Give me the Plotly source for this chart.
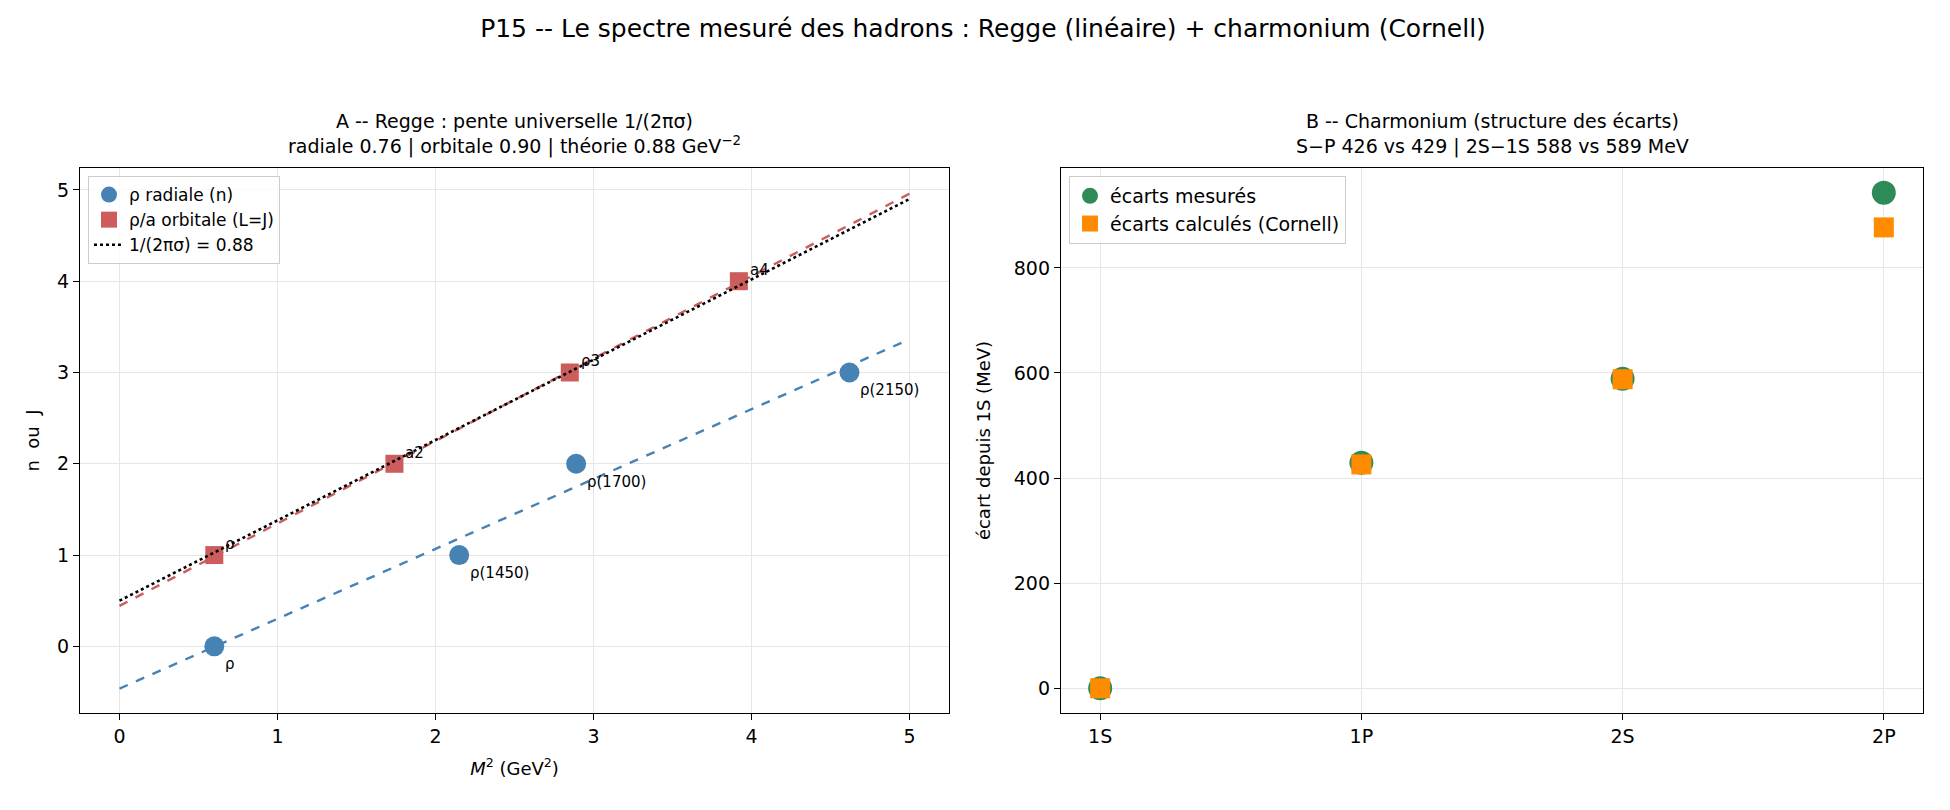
import numpy as np
import plotly.graph_objects as go

# --- données ---
# A : trajectoires de Regge (M^2 en GeV^2)
radial_names = ["ρ", "ρ(1450)", "ρ(1700)", "ρ(2150)"]
radial_m2 = [0.60, 2.15, 2.89, 4.62]
radial_n = [0, 1, 2, 3]

orbital_names = ["ρ", "a2", "ρ3", "a4"]
orbital_m2 = [0.60, 1.74, 2.85, 3.92]
orbital_j = [1, 2, 3, 4]

theory_slope = 0.88
theory_intercept = 0.50
m2_line = [0.0, 5.0]

# B : charmonium, écarts depuis 1S (MeV)
states = ["1S", "1P", "2S", "2P"]
gap_measured = [0, 429, 589, 943]
gap_cornell = [0, 426, 588, 877]

FONT = "DejaVu Sans"
BLUE = "#4682B4"
RED = "#CD5C5C"
GREEN = "#2E8B57"
ORANGE = "#FF8C00"
GRID = "#e6e6e6"

W, H = 1950, 810

# cadres des deux panneaux en pixels (gauche, droite, haut, bas)
A_BOX = (72, 941, 160, 705)
B_BOX = (1053, 1915, 160, 705)


def px_x(p):
    return p / W


def px_y(p):
    return 1 - p / H


# ajustements linéaires (comme dans l'original)
rad_fit = np.polyfit(radial_m2, radial_n, 1)
orb_fit = np.polyfit(orbital_m2, orbital_j, 1)
xl = np.array(m2_line)

fig = go.Figure()

# --- panneau A ---
fig.add_trace(go.Scatter(
    x=xl, y=np.polyval(rad_fit, xl), mode="lines",
    line=dict(color=BLUE, width=2.4, dash="dash"),
    showlegend=False, hoverinfo="skip", xaxis="x", yaxis="y"))
fig.add_trace(go.Scatter(
    x=xl, y=np.polyval(orb_fit, xl), mode="lines",
    line=dict(color=RED, width=2.4, dash="dash"),
    showlegend=False, hoverinfo="skip", xaxis="x", yaxis="y"))
fig.add_trace(go.Scatter(
    x=radial_m2, y=radial_n, mode="markers",
    marker=dict(size=20, color=BLUE, symbol="circle"),
    name="ρ radiale (n)", legend="legend", xaxis="x", yaxis="y"))
fig.add_trace(go.Scatter(
    x=orbital_m2, y=orbital_j, mode="markers",
    marker=dict(size=18, color=RED, symbol="square"),
    name="ρ/a orbitale (L=J)", legend="legend", xaxis="x", yaxis="y"))
fig.add_trace(go.Scatter(
    x=xl, y=theory_intercept + theory_slope * xl, mode="lines",
    line=dict(color="black", width=2.6, dash="dot"),
    name=f"1/(2πσ) = {theory_slope:.2f}", legend="legend",
    xaxis="x", yaxis="y"))

# --- panneau B ---
fig.add_trace(go.Scatter(
    x=states, y=gap_measured, mode="markers",
    marker=dict(size=24, color=GREEN, symbol="circle"),
    name="écarts mesurés", legend="legend2", xaxis="x2", yaxis="y2"))
fig.add_trace(go.Scatter(
    x=states, y=gap_cornell, mode="markers",
    marker=dict(size=20, color=ORANGE, symbol="square"),
    name="écarts calculés (Cornell)", legend="legend2",
    xaxis="x2", yaxis="y2"))

annotations = []
for name, x, y in zip(radial_names, radial_m2, radial_n):
    annotations.append(dict(
        x=x, y=y, xref="x", yref="y", text=name, showarrow=False,
        xanchor="left", yanchor="top", xshift=9, yshift=-7,
        font=dict(family=FONT, size=15, color="black")))
for name, x, y in zip(orbital_names, orbital_m2, orbital_j):
    annotations.append(dict(
        x=x, y=y, xref="x", yref="y", text=name, showarrow=False,
        xanchor="left", yanchor="bottom", xshift=9, yshift=0,
        font=dict(family=FONT, size=15, color="black")))

# titres des panneaux
annotations.append(dict(
    x=(px_x(A_BOX[0]) + px_x(A_BOX[1])) / 2, y=px_y(A_BOX[2] - 8),
    xref="paper", yref="paper",
    text="A -- Regge : pente universelle 1/(2πσ)<br>"
         "radiale 0.76 | orbitale 0.90 | théorie 0.88 GeV<sup>−2</sup>",
    showarrow=False, xanchor="center", yanchor="bottom",
    font=dict(family=FONT, size=19, color="black")))
annotations.append(dict(
    x=(px_x(B_BOX[0]) + px_x(B_BOX[1])) / 2, y=px_y(B_BOX[2] - 8),
    xref="paper", yref="paper",
    text="B -- Charmonium (structure des écarts)<br>"
         "S−P 426 vs 429 | 2S−1S 588 vs 589 MeV",
    showarrow=False, xanchor="center", yanchor="bottom",
    font=dict(family=FONT, size=19, color="black")))

axis_common = dict(
    showline=True, linecolor="black", linewidth=1.3, mirror=True,
    ticks="outside", ticklen=6, tickwidth=1.2, tickcolor="black",
    showgrid=True, gridcolor=GRID, gridwidth=1, zeroline=False,
    tickfont=dict(family=FONT, size=19, color="black"),
)

fig.update_layout(
    width=W, height=H,
    paper_bgcolor="white", plot_bgcolor="white",
    margin=dict(l=0, r=0, t=0, b=0),
    font=dict(family=FONT, color="black"),
    title=dict(
        text="P15 -- Le spectre mesuré des hadrons : Regge (linéaire) + charmonium (Cornell)",
        x=0.5, xanchor="center", y=px_y(20), yanchor="middle",
        font=dict(family=FONT, size=25, color="black")),
    xaxis=dict(
        domain=[px_x(A_BOX[0]), px_x(A_BOX[1])], range=[-0.25, 5.25],
        tickvals=[0, 1, 2, 3, 4, 5], anchor="y",
        title=dict(text="<i>M</i><sup>2</sup> (GeV<sup>2</sup>)", standoff=16,
                   font=dict(family=FONT, size=18)),
        **axis_common),
    yaxis=dict(
        domain=[px_y(A_BOX[3]), px_y(A_BOX[2])], range=[-0.73, 5.24],
        tickvals=[0, 1, 2, 3, 4, 5], anchor="x",
        title=dict(text="n  ou  J", standoff=12,
                   font=dict(family=FONT, size=18)),
        **axis_common),
    xaxis2=dict(
        domain=[px_x(B_BOX[0]), px_x(B_BOX[1])], range=[-0.15, 3.15],
        type="category", anchor="y2",
        **axis_common),
    yaxis2=dict(
        domain=[px_y(B_BOX[3]), px_y(B_BOX[2])], range=[-47, 990],
        tickvals=[0, 200, 400, 600, 800], anchor="x2",
        title=dict(text="écart depuis 1S (MeV)", standoff=18,
                   font=dict(family=FONT, size=18)),
        **axis_common),
    legend=dict(
        x=px_x(A_BOX[0] + 8), y=px_y(A_BOX[2] + 8), xanchor="left", yanchor="top",
        bgcolor="rgba(255,255,255,0.8)", bordercolor="#cccccc", borderwidth=1,
        font=dict(family=FONT, size=17), itemsizing="trace",
        tracegroupgap=0),
    legend2=dict(
        x=px_x(B_BOX[0] + 8), y=px_y(B_BOX[2] + 8), xanchor="left", yanchor="top",
        bgcolor="rgba(255,255,255,0.8)", bordercolor="#cccccc", borderwidth=1,
        font=dict(family=FONT, size=19), itemsizing="trace",
        tracegroupgap=0),
    annotations=annotations,
)

fig.write_html("out.html")
